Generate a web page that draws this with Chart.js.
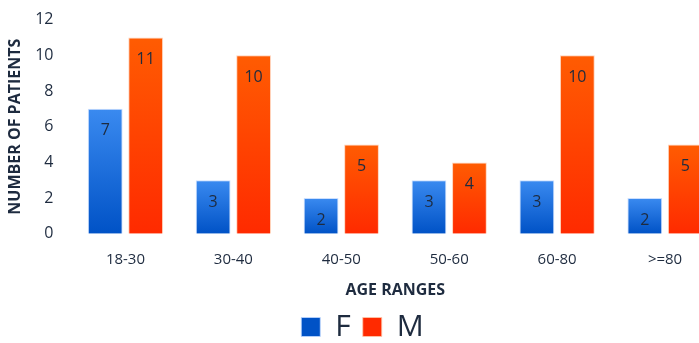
<!DOCTYPE html>
<html>
<head>
<meta charset="utf-8">
<script src="https://cdn.jsdelivr.net/npm/chart.js@4"></script>
<style>
  html, body { margin: 0; padding: 0; background: #fff; overflow: hidden; }
  #wrap { width: 722px; height: 343px; }
</style>
</head>
<body>
<div id="wrap"><canvas id="age-chart"></canvas></div>
<script>
const ageRanges = ['18-30', '30-40', '40-50', '50-60', '60-80', '>=80'];
const femaleCounts = [7, 3, 2, 3, 3, 2];
const maleCounts = [11, 10, 5, 4, 10, 5];
const yTicks = [0, 2, 4, 6, 8, 10, 12];

const TEXT_COLOR = '#1e2b3f';
const FONT = '"Open Sans", "DejaVu Sans", sans-serif';

// vertical gradient per bar, lighter at the top
function barGradient(top, bottom) {
    return ctx => {
        const chart = ctx.chart;
        if (!chart.chartArea || ctx.parsed == null) return bottom;
        const y = chart.scales.y;
        const yTop = y.getPixelForValue(ctx.parsed.y);
        const yBot = y.getPixelForValue(0);
        const g = chart.ctx.createLinearGradient(0, yTop, 0, yBot);
        g.addColorStop(0, top);
        g.addColorStop(1, bottom);
        return g;
    };
}

// value printed inside each bar, near its top
const valueLabels = {
    id: 'valueLabels',
    afterDatasetsDraw(chart) {
        const ctx = chart.ctx;
        ctx.save();
        ctx.font = '16px ' + FONT;
        ctx.fillStyle = TEXT_COLOR;
        ctx.textAlign = 'center';
        ctx.textBaseline = 'middle';
        chart.data.datasets.forEach((ds, i) => {
            chart.getDatasetMeta(i).data.forEach((bar, j) => {
                ctx.fillText(String(ds.data[j]), bar.x, bar.y + 22);
            });
        });
        ctx.restore();
    }
};

function initChart() {
    const ctx = document.getElementById('age-chart').getContext('2d');
    new Chart(ctx, {
        type: 'bar',
        data: {
            labels: ageRanges,
            datasets: [
                {
                    label: 'F',
                    data: femaleCounts,
                    backgroundColor: barGradient('#3a8af0', '#0052c6'),
                    borderColor: 'rgba(190,215,255,0.8)',
                    borderWidth: 1,
                    categoryPercentage: 0.75,
                    barPercentage: 0.86
                },
                {
                    label: 'M',
                    data: maleCounts,
                    backgroundColor: barGradient('#ff5c02', '#ff2a00'),
                    borderColor: 'rgba(255,200,170,0.8)',
                    borderWidth: 1,
                    categoryPercentage: 0.75,
                    barPercentage: 0.86
                }
            ]
        },
        options: {
            responsive: true,
            maintainAspectRatio: false,
            animation: false,
            layout: { padding: { top: 3, left: 6, right: 3, bottom: -9 } },
            plugins: {
                tooltip: { enabled: false },
                legend: {
                    position: 'bottom',
                    labels: {
                        boxWidth: 19,
                        boxHeight: 19,
                        color: TEXT_COLOR,
                        font: { family: FONT, size: 30 },
                        padding: 12
                    }
                }
            },
            scales: {
                x: {
                    grid: { display: false },
                    border: { display: false },
                    ticks: { color: TEXT_COLOR, font: { family: FONT, size: 15 }, padding: 9 },
                    title: {
                        display: true,
                        text: 'AGE RANGES',
                        color: TEXT_COLOR,
                        font: { family: FONT, size: 16, weight: 'bold' },
                        padding: { top: 3, bottom: 0 }
                    }
                },
                y: {
                    min: 0,
                    max: 12,
                    afterBuildTicks: axis => { axis.ticks = yTicks.map(v => ({ value: v })); },
                    grid: { display: false },
                    border: { display: false },
                    ticks: { color: TEXT_COLOR, font: { family: FONT, size: 16 }, padding: 10 },
                    title: {
                        display: true,
                        text: 'NUMBER OF PATIENTS',
                        color: TEXT_COLOR,
                        font: { family: FONT, size: 16, weight: 'bold' },
                        padding: { top: 0, bottom: 0 }
                    }
                }
            }
        },
        plugins: [valueLabels]
    });
}

document.addEventListener('DOMContentLoaded', initChart);
</script>
</body>
</html>
